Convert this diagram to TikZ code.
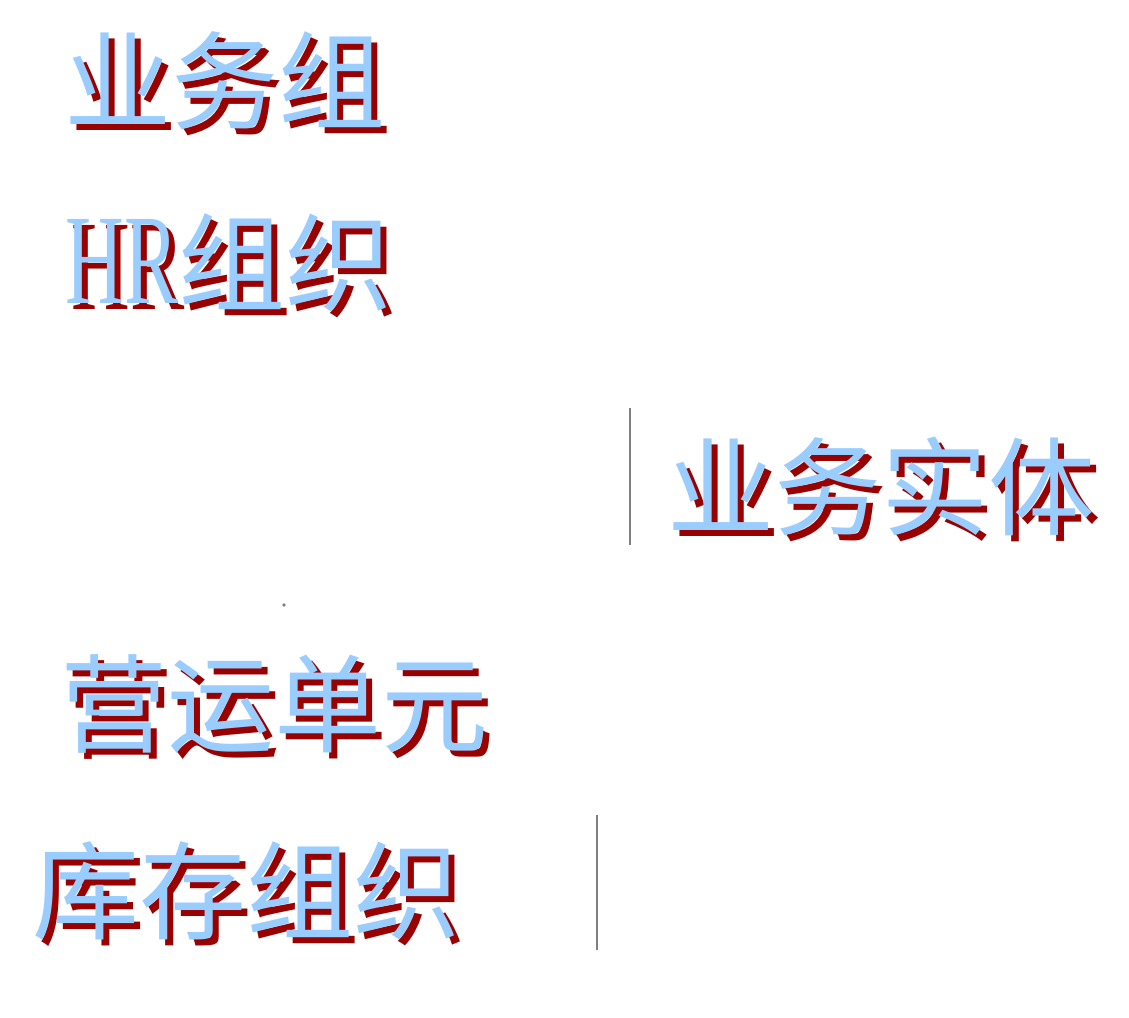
\documentclass[tikz,border=0pt]{standalone}
\usepackage{fontspec}
\usepackage{graphicx}
\usepackage{xcolor}
\newfontfamily\cjk{Noto Sans CJK SC}
\newfontfamily\latinserif{Liberation Serif}
\definecolor{lblue}{HTML}{99CCFF}
\definecolor{dred}{HTML}{990000}
\definecolor{lgray}{HTML}{808080}
\newcommand{\hrtext}{{\latinserif\scalebox{0.76}[1.2]{HR}}}
% red copy set 6pt right and 6pt down, blue copy on top
\newcommand{\shadowed}[1]{\rlap{\hspace{6pt}\raisebox{-6pt}[0pt][0pt]{\textcolor{dred}{#1}}}\textcolor{lblue}{#1}}

\begin{document}
\begin{tikzpicture}[x=1pt,y=-1pt,
		orgtext/.style={inner sep=0pt,font=\cjk\fontsize{107}{112}\selectfont},
		divider/.style={lgray,line width=2pt}]
	\useasboundingbox (0,0) rectangle (1129,1017);
	\node[orgtext] (yewuzu) at (225,81) {\shadowed{业务组}};
	\node[orgtext] (hrzuzhi) at (229,263) {\shadowed{\hrtext 组织}};
	\node[orgtext] (yewushiti) at (881,486) {\shadowed{业务实体}};
	\node[orgtext] (yingyun) at (274,704) {\shadowed{营运单元}};
	\node[orgtext] (kucun) at (246,891) {\shadowed{库存组织}};
	% the two short bars and the stray dot
	\coordinate (bartop) at (630,408);
	\coordinate (barbot) at (630,545);
	\draw[divider] (bartop) -- (barbot);
	\coordinate (kctop) at (597,815);
	\coordinate (kcbot) at (597,950);
	\draw[divider] (kctop) -- (kcbot);
	\fill[lgray] (284,605) circle (1.8pt);
\end{tikzpicture}
\end{document}
